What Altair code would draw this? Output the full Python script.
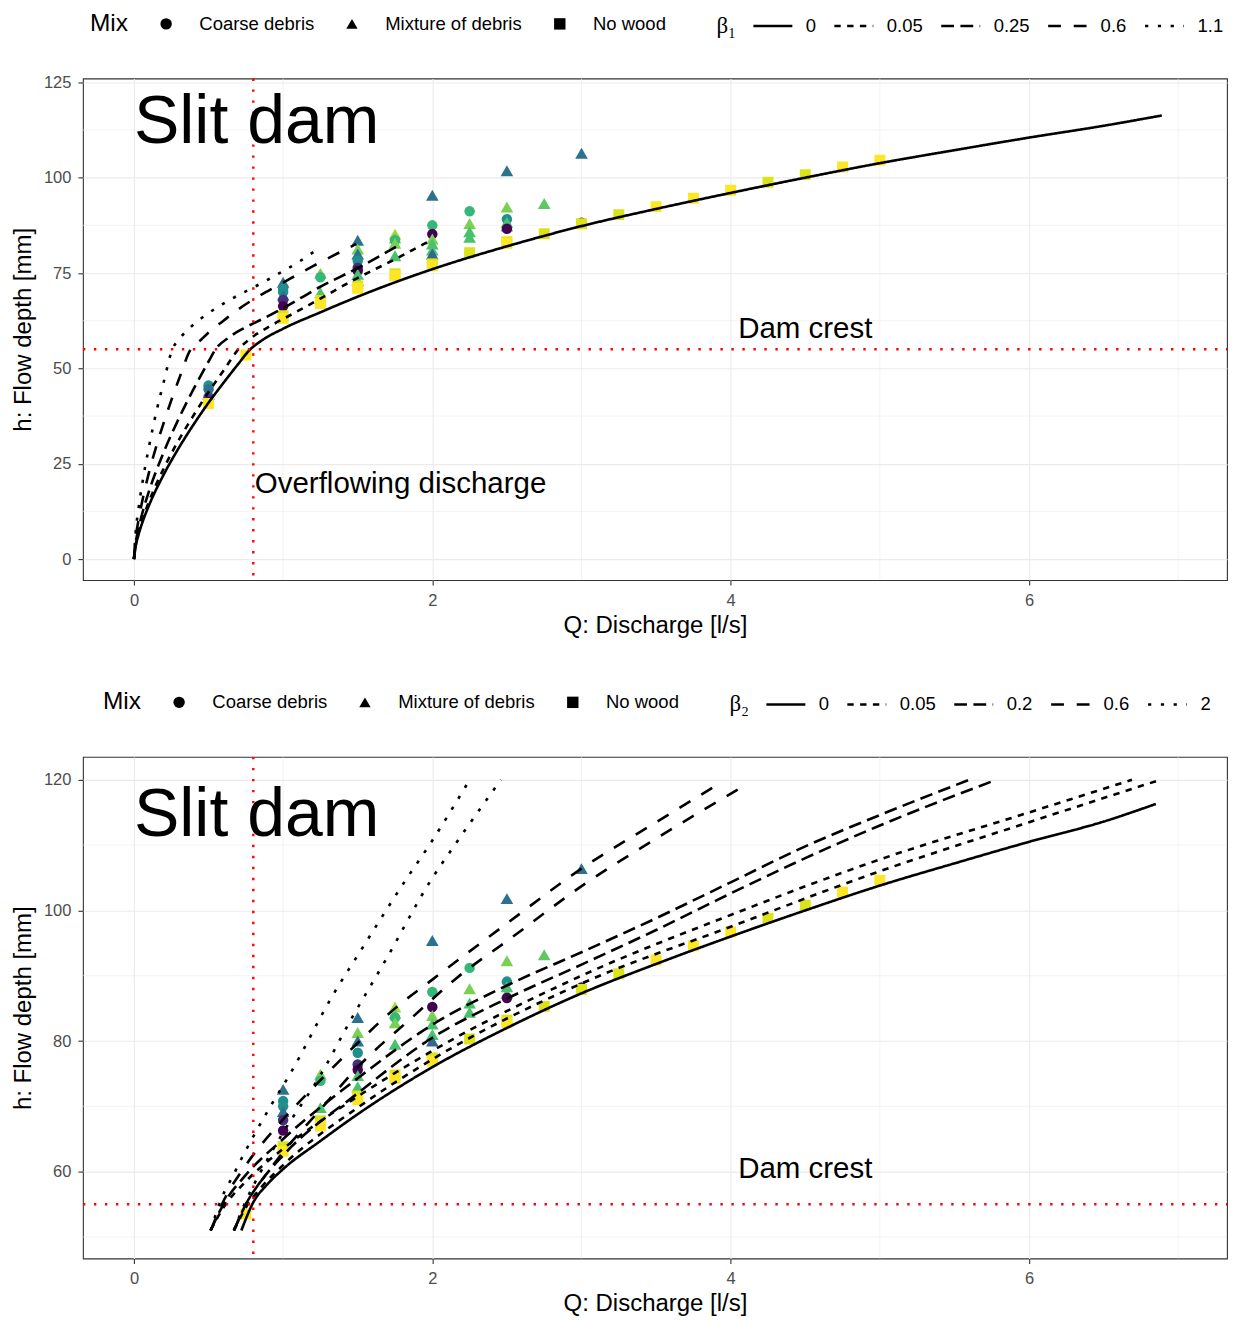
import altair as alt
import pandas as pd

FONT = "Liberation Sans"
W, H = 1145, 502

# ---------------- observations (same in both panels) ----------------
obs_q = [0.5, 0.5, 0.5, 0.5, 0.5, 0.5, 0.5,
         0.75,
         1.0, 1.0, 1.0, 1.0, 1.0, 1.0, 1.0, 1.0,
         1.25, 1.25, 1.25, 1.25, 1.25,
         1.5, 1.5, 1.5, 1.5, 1.5, 1.5, 1.5, 1.5, 1.5, 1.5,
         1.75, 1.75, 1.75, 1.75, 1.75, 1.75, 1.75,
         2.0, 2.0, 2.0, 2.0, 2.0, 2.0, 2.0, 2.0, 2.0,
         2.25, 2.25, 2.25, 2.25, 2.25,
         2.5, 2.5, 2.5, 2.5, 2.5, 2.5, 2.5, 2.5,
         2.75, 2.75,
         3.0, 3.0, 3.0,
         3.25, 3.5, 3.75, 4.0, 4.25, 4.5, 4.75, 5.0]
obs_h = [45.5, 44.5, 43.3, 42.5, 41.8, 41.2, 40.8,
         53.5,
         72.6, 70.8, 70.0, 69.2, 67.9, 66.3, 63.8, 63.1,
         74.9, 73.9, 69.8, 67.8, 67.0,
         83.6, 81.3, 80.0, 78.2, 76.4, 75.6, 74.7, 73.0, 71.6, 71.0,
         85.2, 84.2, 83.6, 82.8, 79.5, 74.8, 74.3,
         95.4, 87.5, 85.2, 83.9, 82.6, 81.0, 80.0, 77.4, 76.9,
         91.2, 88.0, 85.8, 84.4, 80.3,
         101.8, 92.3, 89.1, 88.3, 87.3, 86.6, 83.2, 82.8,
         93.2, 85.3,
         106.4, 88.2, 87.9,
         90.3, 92.4, 94.6, 96.7, 98.8, 100.8, 102.8, 104.6]
obs_mix = ["C", "C", "M", "C", "C", "C", "N",
           "N",
           "M", "C", "C", "M", "C", "C", "N", "N",
           "M", "C", "M", "N", "N",
           "M", "M", "M", "C", "C", "C", "M", "M", "N", "N",
           "M", "M", "C", "M", "M", "N", "N",
           "M", "C", "C", "M", "M", "M", "M", "N", "N",
           "C", "M", "M", "M", "N",
           "M", "M", "C", "M", "M", "C", "N", "N",
           "M", "N",
           "M", "C", "N",
           "N", "N", "N", "N", "N", "N", "N", "N"]
obs_col = ["#21908C", "#2C728E", "#31688E", "#3B528B", "#472D7B", "#440154", "#FDE725",
           "#FDE725",
           "#2C728E", "#21908C", "#21908C", "#2C728E", "#472D7B", "#440154", "#DCE319", "#FDE725",
           "#7AD151", "#35B779", "#4AC16D", "#DCE319", "#FDE725",
           "#2C728E", "#7AD151", "#2C728E", "#21908C", "#472D7B", "#440154", "#4AC16D", "#4AC16D", "#DCE319", "#FDE725",
           "#A0DA39", "#7AD151", "#35B779", "#7AD151", "#4AC16D", "#DCE319", "#FDE725",
           "#2C728E", "#35B779", "#440154", "#7AD151", "#4AC16D", "#4AC16D", "#31688E", "#DCE319", "#FDE725",
           "#35B779", "#7AD151", "#4AC16D", "#4AC16D", "#DCE319",
           "#2C728E", "#7AD151", "#21908C", "#4AC16D", "#4AC16D", "#440154", "#DCE319", "#FDE725",
           "#5EC962", "#DCE319",
           "#2C728E", "#440154", "#DCE319",
           "#DCE319", "#FDE725", "#FDE725", "#FDE725", "#DCE319", "#DCE319", "#FDE725", "#FDE725"]
mix_names = {"C": "Coarse debris", "M": "Mixture of debris", "N": "No wood"}
mix_domain = ["Coarse debris", "Mixture of debris", "No wood"]
mark_area = {"C": 110, "M": 160, "N": 120}

# ---------------- top panel curves (beta_1) ----------------
t0_q = [0, 0.01, 0.03, 0.06, 0.1, 0.2, 0.3, 0.4, 0.5, 0.6, 0.7, 0.77, 0.86, 1.0, 1.25, 1.5, 2.0,
        2.5, 3.0, 3.5, 4.0, 4.5, 5.0, 5.5, 6.0, 6.5, 6.89]
t0_h = [0, 3.0, 6.3, 10.0, 14.0, 22.2, 29.1, 35.3, 41.0, 46.2, 51.2, 54.6, 57.4, 60.4, 64.7, 68.8, 76.0,
        82.0, 87.3, 91.8, 96.0, 100.0, 103.8, 107.2, 110.5, 113.6, 116.3]
t005_q = [0, 0.01, 0.03, 0.06, 0.1, 0.2, 0.3, 0.4, 0.5, 0.6, 0.7, 0.79, 0.9, 1.06, 1.25, 1.46, 1.75, 2.0]
t005_h = [0, 3.2, 6.7, 10.7, 15.0, 23.8, 31.2, 37.7, 43.8, 49.4, 55.0, 58.1, 60.8, 64.2, 68.3, 72.9, 78.6, 83.8]
t025_q = [0, 0.01, 0.03, 0.06, 0.1, 0.2, 0.3, 0.4, 0.5, 0.547, 0.636, 0.75, 0.88, 1.0, 1.24, 1.5, 1.786]
t025_h = [0, 3.8, 7.9, 12.6, 17.7, 28.1, 36.8, 44.6, 51.8, 55.0, 58.1, 60.8, 63.3, 65.8, 71.2, 76.3, 82.5]
t06_q = [0, 0.01, 0.03, 0.06, 0.1, 0.15, 0.2, 0.25, 0.3, 0.38, 0.45, 0.5, 0.6, 0.7, 0.88, 1.0, 1.2, 1.49]
t06_h = [0, 4.9, 10.1, 16.0, 22.6, 29.6, 35.8, 41.6, 47.0, 55.0, 57.5, 59.4, 62.5, 65.5, 69.9, 72.5, 76.8, 82.6]
t11_q = [0, 0.01, 0.03, 0.06, 0.1, 0.15, 0.2, 0.257, 0.3, 0.4, 0.5, 0.6, 0.7, 0.8, 0.9, 1.0, 1.1, 1.24]
t11_h = [0, 6.3, 13.1, 20.8, 29.3, 38.6, 46.5, 55.0, 57.5, 61.5, 64.5, 67.0, 69.2, 71.2, 73.3, 75.5, 77.8, 81.5]

# ---------------- bottom panel curves (beta_2) ----------------
b0_q = [0.72, 0.8, 0.9, 1.0, 1.25, 1.5, 2.0, 2.5, 3.0, 3.5, 4.0, 4.5, 5.0, 5.5, 6.0, 6.5, 6.85]
b0_h = [51.0, 55.3, 58.2, 60.4, 64.7, 68.8, 76.0, 82.0, 87.3, 91.8, 96.0, 100.0, 103.8, 107.2, 110.5, 113.6, 116.3]
b005a_q = [0.514, 0.6, 0.75, 1.0, 1.5, 2.0, 3.0, 4.0, 5.0, 6.0, 6.69]
b005a_h = [51.0, 54.5, 58.5, 63.5, 71.5, 78.5, 90.0, 99.3, 107.8, 115.0, 120.0]
b005b_q = [0.67, 0.75, 0.85, 1.0, 1.5, 2.0, 3.0, 4.0, 5.0, 6.0, 6.88]
b005b_h = [51.0, 54.5, 57.5, 61.0, 69.8, 77.2, 88.8, 97.5, 106.0, 113.5, 120.0]
b02a_q = [0.514, 0.6, 0.75, 1.0, 1.5, 2.0, 2.5, 3.0, 3.5, 4.0, 4.5, 5.0, 5.6]
b02a_h = [51.0, 55.0, 59.5, 65.0, 74.3, 82.5, 88.5, 93.6, 98.8, 104.3, 109.8, 114.6, 120.0]
b02b_q = [0.67, 0.75, 0.85, 1.0, 1.5, 2.0, 2.5, 3.0, 3.5, 4.0, 4.5, 5.0, 5.78]
b02b_h = [51.0, 55.0, 58.5, 62.5, 72.0, 80.5, 86.5, 91.7, 97.0, 102.6, 108.0, 113.0, 120.0]
b06a_q = [0.514, 0.6, 0.75, 1.0, 1.25, 1.5, 1.75, 2.0, 2.5, 3.0, 3.5, 3.93]
b06a_h = [51.0, 55.5, 61.0, 68.0, 74.0, 79.7, 85.0, 89.4, 98.0, 106.4, 113.5, 119.5]
b06b_q = [0.67, 0.75, 0.9, 1.0, 1.25, 1.5, 1.864, 2.166, 2.5, 3.025, 3.5, 4.1]
b06b_h = [51.0, 55.0, 60.0, 63.0, 69.5, 76.0, 83.6, 89.7, 95.3, 104.1, 111.0, 119.2]
b2a_q = [0.514, 0.59, 0.66, 0.73, 0.82, 0.92, 1.04, 1.33, 1.53, 1.82, 1.98, 2.24]
b2a_h = [51.0, 56.1, 59.2, 62.4, 66.2, 70.2, 74.7, 86.9, 94.2, 104.6, 110.0, 119.6]
b2b_q = [0.67, 0.75, 0.85, 1.0, 1.24, 1.46, 1.69, 1.99, 2.15, 2.46]
b2b_h = [51.0, 55.5, 60.0, 66.0, 74.4, 83.5, 92.5, 104.6, 110.0, 120.0]

beta1_levels = ["0", "0.05", "0.25", "0.6", "1.1"]
beta2_levels = ["0", "0.05", "0.2", "0.6", "2"]
U = 3.2
dash_range = [[1, 0], [2 * U, 2 * U], [4 * U, 2 * U], [4 * U, 4 * U], [1 * U, 3 * U]]

x_domain = [-0.342, 7.327]
x_ticks = [0, 2, 4, 6]
x_minor = [1, 3, 5, 7]
top_y_ticks = [0, 25, 50, 75, 100, 125]
top_y_minor = [12.5, 37.5, 62.5, 87.5, 112.5]
bot_y_ticks = [60, 80, 100, 120]
bot_y_minor = [50, 70, 90, 110]

crest_h = [55]
overflow_q = [0.8]


def curves_df(curves):
    rows = []
    for beta, gid, qs, hs in curves:
        for i, (q, h) in enumerate(zip(qs, hs)):
            rows.append({"beta": beta, "gid": gid, "Q": q, "h": h, "ord": i})
    return pd.DataFrame(rows)


top_curves = curves_df([
    ("0", "a", t0_q, t0_h), ("0.05", "b", t005_q, t005_h), ("0.25", "c", t025_q, t025_h),
    ("0.6", "d", t06_q, t06_h), ("1.1", "e", t11_q, t11_h)])
bot_curves = curves_df([
    ("0", "a", b0_q, b0_h), ("0.05", "b1", b005a_q, b005a_h), ("0.05", "b2", b005b_q, b005b_h),
    ("0.2", "c1", b02a_q, b02a_h), ("0.2", "c2", b02b_q, b02b_h),
    ("0.6", "d1", b06a_q, b06a_h), ("0.6", "d2", b06b_q, b06b_h),
    ("2", "e1", b2a_q, b2a_h), ("2", "e2", b2b_q, b2b_h)])

obs_df = pd.DataFrame({"Q": obs_q, "h": obs_h,
                       "mix": [mix_names[m] for m in obs_mix], "col": obs_col,
                       "sz": [mark_area[m] for m in obs_mix]})

LEG_Y = -64


def panel(curves, levels, beta_title, y_domain, y_ticks, y_minor, texts, lx_s, lx_b):
    xs = alt.Scale(domain=x_domain, nice=False, zero=False)
    ys = alt.Scale(domain=y_domain, nice=False, zero=False)
    xaxis = alt.Axis(values=x_ticks, title="Q: Discharge [l/s]", grid=True, format="d")
    yaxis = alt.Axis(values=y_ticks, title="h: Flow depth [mm]", grid=True, format="d")
    X = alt.X("Q:Q", scale=xs, axis=xaxis)
    Y = alt.Y("h:Q", scale=ys, axis=yaxis)

    minor_v = alt.Chart(pd.DataFrame({"Q": x_minor})).mark_rule(
        color="#EBEBEB", strokeWidth=0.6).encode(x=X, y=alt.value(0), y2=alt.value(H))
    minor_h = alt.Chart(pd.DataFrame({"h": y_minor})).mark_rule(
        color="#EBEBEB", strokeWidth=0.6).encode(y=Y, x=alt.value(0), x2=alt.value(W))

    red_v = alt.Chart(pd.DataFrame({"Q": overflow_q})).mark_rule(
        color="#FF0000", strokeWidth=2.4, strokeDash=[2.4, 8.6]).encode(
        x=X, y=alt.value(0), y2=alt.value(H))
    red_h = alt.Chart(pd.DataFrame({"h": crest_h})).mark_rule(
        color="#FF0000", strokeWidth=2.4, strokeDash=[2.4, 8.6]).encode(
        y=Y, x=alt.value(0), x2=alt.value(W))

    pts = alt.Chart(obs_df).mark_point(
        filled=True, opacity=1, strokeWidth=0, clip=True).encode(
        x=X, y=Y,
        shape=alt.Shape("mix:N",
                        scale=alt.Scale(domain=mix_domain,
                                        range=["circle", "triangle-up", "square"]),
                        legend=alt.Legend(title="Mix", orient="none", legendX=lx_s, legendY=LEG_Y,
                                          direction="horizontal", titleOrient="left",
                                          titleFontSize=24.5, titleFont=FONT,
                                          titleFontWeight="normal", titleColor="black",
                                          titlePadding=28, titleBaseline="middle",
                                          labelFontSize=18.5, labelFont=FONT, labelColor="black",
                                          labelOffset=24, columnPadding=28,
                                          symbolSize=130, symbolFillColor="black",
                                          symbolStrokeColor="black", symbolStrokeWidth=0,
                                          symbolOpacity=1)),
        size=alt.Size("sz:Q", scale=None),
        color=alt.Color("col:N", scale=None))

    lines = alt.Chart(curves).mark_line(color="black", strokeWidth=2.6, clip=True,
                                        strokeCap="butt", interpolate="monotone").encode(
        x=X, y=Y, detail="gid:N", order="ord:Q",
        strokeDash=alt.StrokeDash("beta:N",
                                  scale=alt.Scale(domain=levels, range=dash_range),
                                  legend=alt.Legend(title=beta_title, orient="none",
                                                    legendX=lx_b, legendY=LEG_Y,
                                                    direction="horizontal", titleOrient="left",
                                                    titleFontSize=23,
                                                    titleFont="Liberation Serif, DejaVu Serif",
                                                    titleFontWeight="normal", titleColor="black",
                                                    titlePadding=25, titleBaseline="middle",
                                                    labelFontSize=18.5, labelFont=FONT,
                                                    labelColor="black", labelOffset=21.5,
                                                    columnPadding=12, symbolType="M-2,0H2",
                                                    symbolSize=380, symbolStrokeWidth=2.6,
                                                    symbolStrokeColor="black")))

    layers = [minor_v, minor_h, pts, lines, red_v, red_h]
    for txt, q, h, size, align in texts:
        layers.append(alt.Chart(pd.DataFrame({"Q": [q], "h": [h], "t": [txt]})).mark_text(
            align=align, baseline="middle", fontSize=size, font=FONT, color="black").encode(
            x=X, y=Y, text="t:N"))
    return alt.layer(*layers).properties(width=W, height=H)


top = panel(top_curves, beta1_levels, "β₁", [-5.5, 126], top_y_ticks, top_y_minor,
            [("Slit dam", 0, 114.3, 68, "left"),
             ("Dam crest", 4.5, 60.4, 29.5, "center"),
             ("Overflowing discharge", 0.81, 19.6, 29.5, "left")], 7, 634)
bottom = panel(bot_curves, beta2_levels, "β₂", [46.7, 123.5], bot_y_ticks, bot_y_minor,
               [("Slit dam", 0, 114.5, 68, "left"),
                ("Dam crest", 4.5, 60.4, 29.5, "center")], 20, 647)

chart = alt.vconcat(top, bottom, spacing=53).resolve_scale(
    y="independent", strokeDash="independent", shape="independent"
).properties(padding={"left": 2, "top": 5, "right": 0, "bottom": 0},
             background="white").configure_view(
    stroke="#333333", strokeWidth=1.1
).configure_axis(
    labelFont=FONT, labelFontSize=16.5, labelColor="#4D4D4D",
    titleFont=FONT, titleFontSize=24, titleFontWeight="normal", titleColor="black",
    tickColor="#333333", tickSize=5, tickWidth=1.1, domain=False,
    gridColor="#EBEBEB", gridWidth=1.1, labelPadding=7
).configure_axisX(titlePadding=5).configure_axisY(titlePadding=8)

chart.save("out.html", embed_options={"renderer": "svg", "actions": False})
